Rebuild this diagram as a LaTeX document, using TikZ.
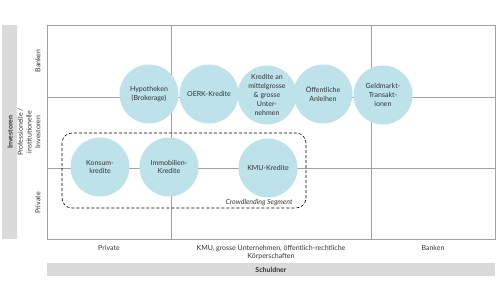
\documentclass[tikz,border=0pt]{standalone}
\usepackage{fontspec}
\setmainfont{Lato}
\usetikzlibrary{positioning}
\definecolor{bubble}{HTML}{BDE2EA}
\definecolor{barfill}{HTML}{DADADA}
\definecolor{gridline}{HTML}{A0A0A0}
\definecolor{txt}{HTML}{333333}
\begin{document}
\begin{tikzpicture}[x=1pt, y=-1pt,
		every node/.style={font=\fontsize{7}{8.8}\selectfont, text=txt, align=center},
		bubble/.style={circle, fill=bubble, minimum size=59pt, inner sep=0pt},
		rowlabel/.style={rotate=90, anchor=south},
		grid/.style={draw=gridline, line width=0.9pt}]
		\useasboundingbox (0,0) rectangle (500,300);
		% bars
		\fill[barfill] (2,25) rectangle (17,239);
		\fill[barfill] (47,263) rectangle (495,276);
		\node (inv) at (10,132) [rotate=90, font=\fontsize{7}{8}\selectfont\bfseries] {Investoren};
		\node (sch) at (271,269.5) [font=\fontsize{7}{8}\selectfont\bfseries] {Schuldner};
		% grid
		\draw[grid] (47,25) rectangle (495,239);
		\draw[grid] (171,25) -- (171,239); \draw[grid] (371,25) -- (371,239);
		\draw[grid] (47,97) -- (495,97); \draw[grid] (47,168) -- (495,168);
		% labels
		\node (rb) at (44,61) [rowlabel] {Banken};
		\node (rp) at (44,132) [rowlabel] {Professionelle /\\institutionelle\\Investoren};
		\node (rv) at (44,203) [rowlabel] {Private};
		\node (cp) at (109,248) {Private};
		\node (ck) at (271,252.5) {KMU, grosse Unternehmen, öffentlich-rechtliche\\Körperschaften};
		\node (cb) at (433,248) {Banken};
		% segment
		\draw[dashed, dash pattern=on 3pt off 2pt, line width=0.6pt, rounded corners=10pt] (62,133) rectangle (306,208);
		\node (seg) at (296,203) [anchor=east, font=\fontsize{7}{8}\selectfont\itshape] {Crowdlending Segment};
		% bubbles
		\node (hyp) at (149,94) [bubble] {Hypotheken\\(Brokerage)};
		\node (oerk) at (209,94) [bubble] {OERK-Kredite};
		\node (krd) at (267,95) [bubble] {Kredite an\\mittelgrosse\\\& grosse\\Unter-\\nehmen};
		\node (anl) at (323,94) [bubble] {Öffentliche\\Anleihen};
		\node (geld) at (383,95) [bubble] {Geldmarkt-\\Transakt-\\ionen};
		\node (kons) at (100,167) [bubble] {Konsum-\\kredite};
		\node (immo) at (169,167) [bubble] {Immobilien-\\Kredite};
		\node (kmu) at (268,168) [bubble] {KMU-Kredite};
	\end{tikzpicture}
\end{document}
